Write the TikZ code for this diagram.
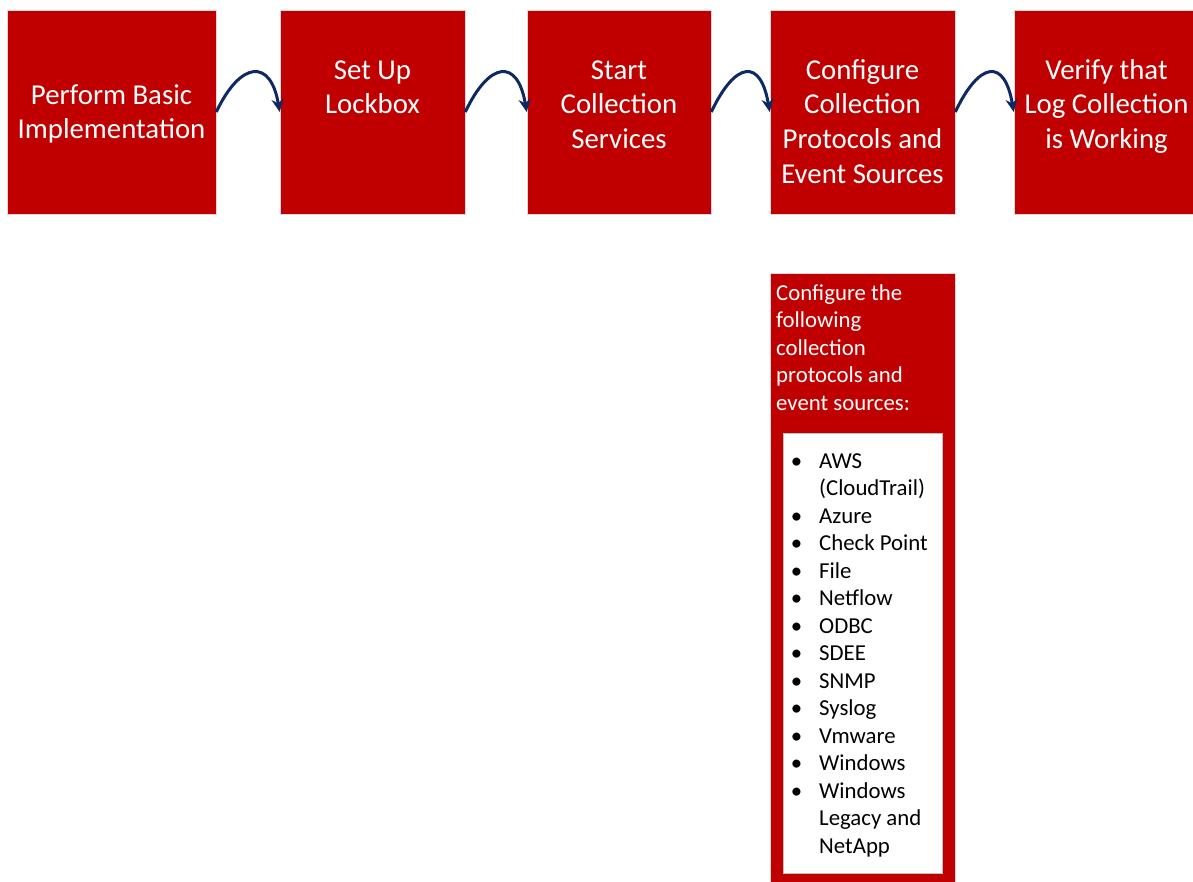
\documentclass[tikz,border=0pt]{standalone}
\usepackage{fontspec}
\setmainfont{Carlito}
\usetikzlibrary{arrows.meta}
\definecolor{boxred}{RGB}{192,0,0}
\definecolor{navy}{RGB}{14,40,100}
\tikzset{
  stepbox/.style={fill=boxred, draw=black!15, line width=0.6bp, inner sep=0pt},
  toptext/.style={text=white, font=\fontsize{28.8bp}{34.7bp}\selectfont, align=center, inner sep=0pt, anchor=north},
  subtext/.style={text=white, font=\fontsize{22.8bp}{27.5bp}\selectfont, align=left, inner sep=0pt, anchor=north west},
  listtext/.style={text=black, font=\fontsize{22.8bp}{27.5bp}\selectfont, align=left, inner sep=0pt, anchor=north west},
  flow/.style={draw=navy, line width=3bp, -{Stealth[length=13bp,width=12bp]}},
}
\newcommand{\itm}{\llap{\textbullet\hspace{17bp}}}
\begin{document}
\begin{tikzpicture}[x=1bp,y=-1bp]
\useasboundingbox (0,0) rectangle (1193,882);
% boxes
\node[stepbox, minimum width=209bp, minimum height=204bp] (b1) at (111.5,112) {};
\node[stepbox, minimum width=185bp, minimum height=204bp] (b2) at (372.5,112) {};
\node[stepbox, minimum width=184bp, minimum height=204bp] (b3) at (619,112) {};
\node[stepbox, minimum width=185bp, minimum height=204bp] (b4) at (862.5,112) {};
\node[stepbox, minimum width=185bp, minimum height=204bp] (b5) at (1106.5,112) {};
% texts
\node[toptext] (t1) at (111.5,104-24.3) {\strut Perform Basic\\Implementation};
\node[toptext] (t2) at (372.5,79-24.3) {\strut Set Up\\Lockbox};
\node[toptext] (t3) at (619,79-24.3) {\strut Start\\Collection\\Services};
\node[toptext] (t4) at (862.5,79-24.3) {\strut Configure\\Collection\\Protocols and\\Event Sources};
\node[toptext] (t5) at (1106.5,79-24.3) {\strut Verify that\\Log Collection\\is Working};
% connectors
\draw[flow] (b1.east) .. controls +(24,-51) and +(-9,-54) .. (b2.west);
\draw[flow] (b2.east) .. controls +(24,-51) and +(-9,-54) .. (b3.west);
\draw[flow] (b3.east) .. controls +(24,-51) and +(-9,-54) .. (b4.west);
\draw[flow] (b4.east) .. controls +(24,-51) and +(-9,-54) .. (b5.west);
% sub box
\node[stepbox, minimum width=185bp, minimum height=620bp, anchor=north west] (sub) at (770,273) {};
\node[subtext] (st) at (776,300-19.25) {\strut Configure the\\following\\collection\\protocols and\\event sources:};
\node[fill=white, draw=black!25, line width=0.6bp, minimum width=159bp, minimum height=440bp, anchor=north west, inner sep=0pt] (inner) at (783,433) {};
\node[listtext] (lst) at (819,468-19.25) {\strut\itm AWS\\(CloudTrail)\\\itm Azure\\\itm Check Point\\\itm File\\\itm Netflow\\\itm ODBC\\\itm SDEE\\\itm SNMP\\\itm Syslog\\\itm Vmware\\\itm Windows\\\itm Windows\\Legacy and\\NetApp};
\end{tikzpicture}
\end{document}
